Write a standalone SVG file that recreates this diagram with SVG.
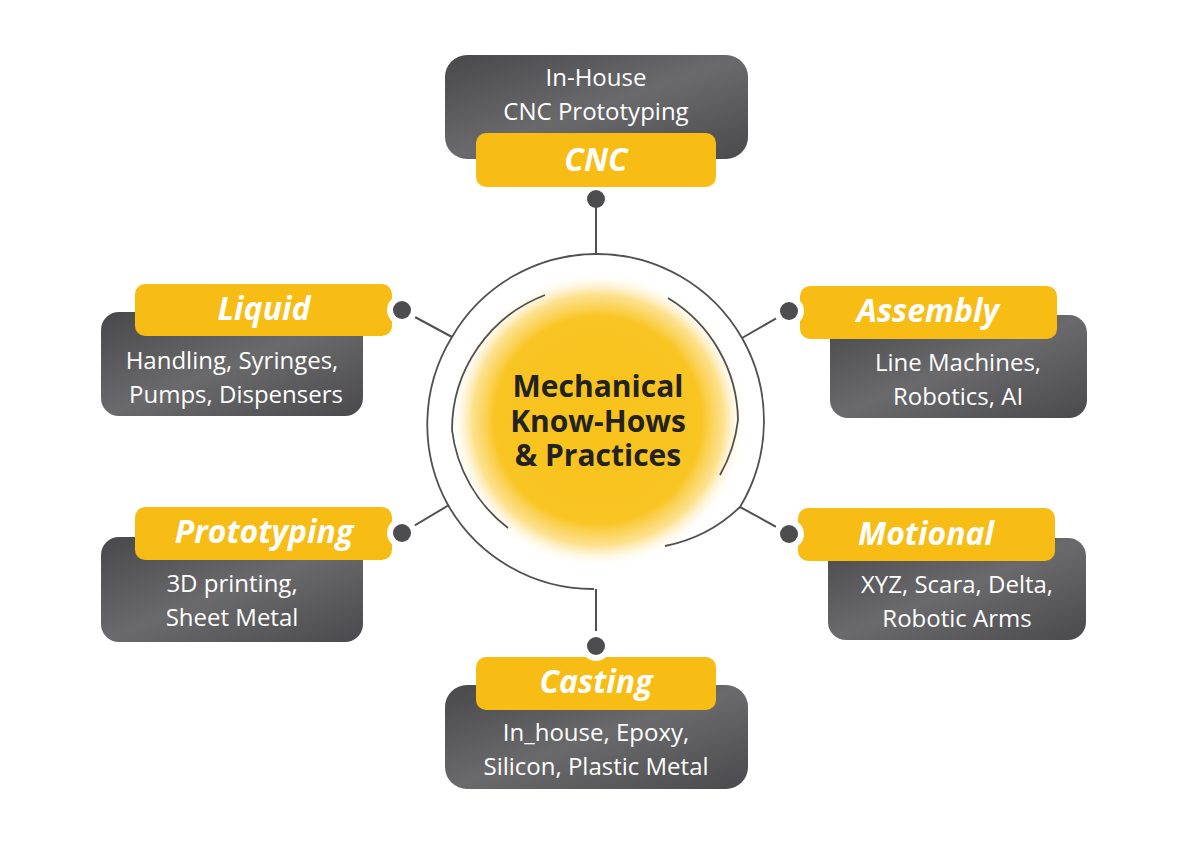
<svg xmlns="http://www.w3.org/2000/svg" width="1200" height="845" viewBox="0 0 1200 845">
<defs>
<radialGradient id="glow" cx="0.5" cy="0.5" r="0.5">
<stop offset="0" stop-color="#f9c21a"/><stop offset="0.7" stop-color="#f9c523"/><stop offset="0.85" stop-color="#fbd560" stop-opacity="0.7"/><stop offset="1" stop-color="#fff" stop-opacity="0"/>
</radialGradient>
<linearGradient id="grey" x1="0" y1="0" x2="1" y2="1">
<stop offset="0" stop-color="#48484a"/><stop offset="0.5" stop-color="#6a6a6c"/><stop offset="1" stop-color="#4a4a4c"/>
</linearGradient>
<style>
.g{fill:url(#grey)}.y{fill:#f7bd14}
.lab{font-family:"Open Sans",sans-serif;font-weight:bold;font-style:italic;font-size:32px;fill:#fff;text-anchor:middle}
.sub{font-family:"Open Sans",sans-serif;font-size:24px;fill:#fff;text-anchor:middle}
.c{font-family:"Open Sans",sans-serif;font-weight:bold;font-size:30px;fill:#222;text-anchor:middle}
.ln{fill:none;stroke:#505052;stroke-width:2}
.ring{fill:none;stroke:#505052;stroke-width:1.8}
.n{fill:#fff}.d{fill:#4d4d4f}
</style>
</defs>
<rect width="1200" height="845" fill="#fff"/>
<g id="center">
<circle cx="598" cy="420" r="148" fill="url(#glow)"/>
<text class="c" x="598" y="397">Mechanical</text>
<text class="c" x="598" y="432">Know-Hows</text>
<text class="c" x="598" y="466">&amp; Practices</text>
</g>
<g id="connectors">
<path class="ring" d="M596 254 A167 167 0 0 1 742 338 M742 338 A167 167 0 0 1 740 507 A150 150 0 0 1 665 546"/>
<path class="ring" d="M452 337 A167 167 0 0 1 596 254 M448 505 A167 167 0 0 1 452 337 M448 505 A167 167 0 0 0 594 589"/>
<path class="ring" d="M545 295 A145 145 0 0 0 452 430 A145 145 0 0 0 508 528"/>
<path class="ring" d="M668 298 A145 145 0 0 1 738 420 A145 145 0 0 1 720 475"/>
<path class="ln" d="M596 199 V254 M402 310 L452 337 M789 311 L742 338 M402 533 L449 505 M789 534 L740 507 M596 646 V589"/>
</g>
<g id="cnc">
<rect class="g" x="445" y="55" width="303" height="104" rx="22"/>
<rect class="y" x="476" y="133" width="240" height="54" rx="10"/>
<text class="sub" x="596" y="86">In-House</text>
<text class="sub" x="596" y="120">CNC Prototyping</text>
<text class="lab" x="596" y="171">CNC</text>
<circle class="d" cx="596" cy="199" r="9"/>
</g>
<g id="liquid">
<rect class="g" x="101" y="312" width="262" height="104" rx="18"/>
<rect class="y" x="135" y="284" width="257" height="52" rx="10"/>
<circle class="n" cx="402" cy="310" r="15"/><circle class="d" cx="402" cy="310" r="9"/>
<text class="lab" x="264" y="320">Liquid</text>
<text class="sub" x="232" y="369">Handling, Syringes,</text>
<text class="sub" x="236" y="403">Pumps, Dispensers</text>
</g>
<g id="prototyping">
<rect class="g" x="101" y="537" width="262" height="105" rx="18"/>
<rect class="y" x="135" y="507" width="257" height="53" rx="10"/>
<circle class="n" cx="402" cy="533" r="15"/><circle class="d" cx="402" cy="533" r="9"/>
<text class="lab" x="264" y="543">Prototyping</text>
<text class="sub" x="232" y="592">3D printing,</text>
<text class="sub" x="232" y="626">Sheet Metal</text>
</g>
<g id="assembly">
<rect class="g" x="830" y="315" width="257" height="103" rx="18"/>
<rect class="y" x="800" y="286" width="257" height="53" rx="10"/>
<circle class="n" cx="789" cy="311" r="15"/><circle class="d" cx="789" cy="311" r="9"/>
<text class="lab" x="928" y="322">Assembly</text>
<text class="sub" x="958" y="371">Line Machines,</text>
<text class="sub" x="958" y="405">Robotics, AI</text>
</g>
<g id="motional">
<rect class="g" x="828" y="538" width="258" height="102" rx="18"/>
<rect class="y" x="798" y="508" width="257" height="53" rx="10"/>
<circle class="n" cx="789" cy="534" r="15"/><circle class="d" cx="789" cy="534" r="9"/>
<text class="lab" x="926" y="545">Motional</text>
<text class="sub" x="957" y="593">XYZ, Scara, Delta,</text>
<text class="sub" x="957" y="627">Robotic Arms</text>
</g>
<g id="casting">
<rect class="g" x="445" y="685" width="303" height="104" rx="22"/>
<rect class="y" x="476" y="657" width="240" height="53" rx="10"/>
<circle class="n" cx="596" cy="646" r="15"/><circle class="d" cx="596" cy="646" r="9"/>
<text class="lab" x="596" y="693">Casting</text>
<text class="sub" x="596" y="741">In_house, Epoxy,</text>
<text class="sub" x="596" y="775">Silicon, Plastic Metal</text>
</g>
</svg>
